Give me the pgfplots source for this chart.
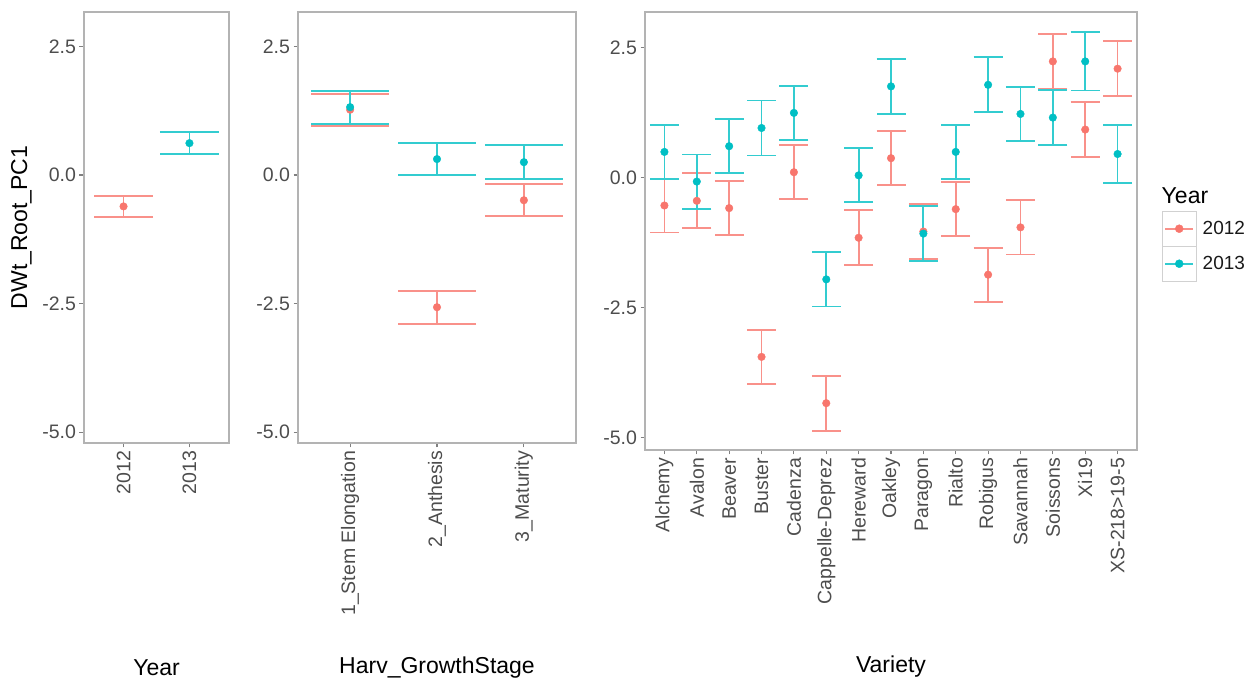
\documentclass[border=0pt]{standalone}
\usepackage{pgfplots}
\pgfplotsset{compat=1.18}
\usepackage{fontspec}
\setmainfont{Liberation Sans}

\definecolor{c12}{HTML}{F8766D}
\definecolor{c13}{HTML}{00BFC4}
\definecolor{tickgray}{HTML}{4D4D4D}
\definecolor{framegray}{HTML}{B3B3B3}

\pgfplotsset{
  panel/.style={
    scale only axis,
    anchor=south west,
    clip=false,
    ytick={-5,-2.5,0,2.5},
    yticklabels={-5.0,-2.5,0.0,2.5},
    axis line style={framegray, line width=1.3pt},
    tick align=outside,
    tick pos=left,
    major tick length=4.5pt,
    tick style={color=gray, line width=1.1pt},
    ticklabel style={font=\fontsize{19.5}{22}\selectfont, text=tickgray},
    xticklabel style={rotate=90, anchor=east},
    label style={font=\fontsize{23}{26}\selectfont, text=black},
    xlabel style={at={(axis description cs:0.5,0)}, anchor=center},
  },
  bars/.style n args={2}{
    only marks, mark=none, forget plot, line width=1.8pt,
    error bars/.cd, y dir=both, y explicit,
    error bar style={draw=#1!80!white, line width=1.8pt},
    error mark=|,
    error mark options={draw=#1!80!white, line width=1.8pt, mark size=#2},
  },
  pts/.style={only marks, mark=*, mark size=3.8pt, color=#1,
    mark options={draw=#1, fill=#1}},
}

\begin{document}
\begin{tikzpicture}
\useasboundingbox (0pt,0pt) rectangle (1253pt,684pt);

% ---- Year ----
\begin{axis}[panel,
  at={(84pt,241pt)}, width=145pt, height=431pt,
  xmin=0.4, xmax=2.6, ymin=-5.21, ymax=3.17,
  xtick={1,2}, xticklabels={2012,2013},
  xlabel={Year}, xlabel style={yshift=-225pt},
  ylabel={DWt\_Root\_PC1},
  ylabel style={at={(axis description cs:-0.431,0.5)}, anchor=center},
]
\addplot[bars={c12}{29.5pt}] coordinates {(1,-0.61) +- (0,0.21)};
\addplot[bars={c13}{29.5pt}] coordinates {(2,0.62) +- (0,0.21)};
\addplot[pts=c12] coordinates {(1,-0.61)};
\addplot[pts=c13] coordinates {(2,0.62)};
\end{axis}

% ---- Harv_GrowthStage ----
\begin{axis}[panel,
  at={(298pt,241pt)}, width=278pt, height=431pt,
  xmin=0.4, xmax=3.6, ymin=-5.21, ymax=3.17,
  xtick={1,2,3}, xticklabels={1\_Stem Elongation,2\_Anthesis,3\_Maturity},
  xlabel={Harv\_GrowthStage}, xlabel style={yshift=-225pt},
]
\addplot[bars={c12}{39pt}] coordinates {
  (1,1.27) +- (0,0.31)
  (2,-2.57) +- (0,0.32)
  (3,-0.49) +- (0,0.31)
};
\addplot[bars={c13}{39pt}] coordinates {
  (1,1.32) +- (0,0.32)
  (2,0.31) +- (0,0.31)
  (3,0.25) +- (0,0.33)
};
\addplot[pts=c12] coordinates {(1,1.27) (2,-2.57) (3,-0.49)};
\addplot[pts=c13] coordinates {(1,1.32) (2,0.31) (3,0.25)};
\end{axis}

% ---- Variety ----
\begin{axis}[panel,
  at={(645pt,234pt)}, width=492pt, height=438pt,
  xmin=0.4, xmax=15.6, ymin=-5.24, ymax=3.18,
  xtick={1,...,15},
  xticklabels={Alchemy,Avalon,Beaver,Buster,Cadenza,Cappelle-Deprez,Hereward,Oakley,Paragon,Rialto,Robigus,Savannah,Soissons,Xi19,XS-218>19-5},
  xlabel={Variety}, xlabel style={yshift=-216.7pt},
  legend style={at={(1.0502,0.5463)}, anchor=north west, draw=none, fill=none,
    inner sep=0pt, outer sep=0pt, row sep=-1pt, column sep=4pt,
    font=\fontsize{19}{22}\selectfont, text=black!90},
  legend cell align=left,
]
\addplot[bars={c12}{14.5pt}] coordinates {
  (1,-0.54) +- (0,0.52)
  (2,-0.45) +- (0,0.53)
  (3,-0.59) +- (0,0.52)
  (4,-3.45) +- (0,0.52)
  (5,0.10) +- (0,0.52)
  (6,-4.34) +- (0,0.53)
  (7,-1.16) +- (0,0.53)
  (8,0.37) +- (0,0.52)
  (9,-1.04) +- (0,0.53)
  (10,-0.61) +- (0,0.52)
  (11,-1.87) +- (0,0.52)
  (12,-0.96) +- (0,0.52)
  (13,2.23) +- (0,0.53)
  (14,0.92) +- (0,0.53)
  (15,2.09) +- (0,0.53)
};
\addplot[bars={c13}{14.5pt}] coordinates {
  (1,0.49) +- (0,0.52)
  (2,-0.08) +- (0,0.52)
  (3,0.60) +- (0,0.52)
  (4,0.95) +- (0,0.53)
  (5,1.24) +- (0,0.52)
  (6,-1.96) +- (0,0.52)
  (7,0.04) +- (0,0.52)
  (8,1.75) +- (0,0.53)
  (9,-1.08) +- (0,0.53)
  (10,0.49) +- (0,0.52)
  (11,1.78) +- (0,0.53)
  (12,1.22) +- (0,0.52)
  (13,1.15) +- (0,0.53)
  (14,2.23) +- (0,0.56)
  (15,0.45) +- (0,0.55)
};
\addplot[pts=c12,
  legend image code/.code={
    \draw[framegray!60, line width=1pt] (0pt,-17.5pt) rectangle (34pt,17.5pt);
    \draw[c12!80!white, line width=1.8pt] (3pt,0pt) -- (31pt,0pt);
    \fill[c12] (17pt,0pt) circle (4pt);
  }] coordinates {
  (1,-0.54) (2,-0.45) (3,-0.59) (4,-3.45) (5,0.10) (6,-4.34) (7,-1.16) (8,0.37)
  (9,-1.04) (10,-0.61) (11,-1.87) (12,-0.96) (13,2.23) (14,0.92) (15,2.09)
};
\addlegendentry{2012}
\addplot[pts=c13,
  legend image code/.code={
    \draw[framegray!60, line width=1pt] (0pt,-17.5pt) rectangle (34pt,17.5pt);
    \draw[c13!80!white, line width=1.8pt] (3pt,0pt) -- (31pt,0pt);
    \fill[c13] (17pt,0pt) circle (4pt);
  }] coordinates {
  (1,0.49) (2,-0.08) (3,0.60) (4,0.95) (5,1.24) (6,-1.96) (7,0.04) (8,1.75)
  (9,-1.08) (10,0.49) (11,1.78) (12,1.22) (13,1.15) (14,2.23) (15,0.45)
};
\addlegendentry{2013}
\end{axis}

% legend title
\node[anchor=base west, inner sep=0pt, font=\fontsize{23}{26}\selectfont]
  at (1161.5pt,480.7pt) {Year};
\end{tikzpicture}
\end{document}
